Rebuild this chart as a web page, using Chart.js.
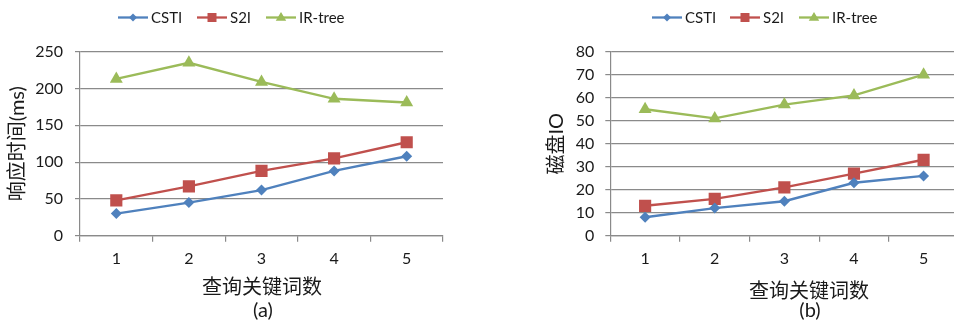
<!DOCTYPE html>
<html>
<head>
<meta charset="utf-8">
<script src="https://cdn.jsdelivr.net/npm/chart.js@4.4.1/dist/chart.umd.min.js"></script>
<style>
  html, body { margin: 0; padding: 0; background: #fff; width: 954px; height: 323px; overflow: hidden; }
  .panel { position: absolute; top: 0; }
  #panelA { left: 0; width: 477px; height: 323px; }
  #panelB { left: 477px; width: 490px; height: 323px; }
</style>
</head>
<body>
<div class="panel" id="panelA"><canvas id="chartA" width="477" height="323"></canvas></div>
<div class="panel" id="panelB"><canvas id="chartB" width="490" height="323"></canvas></div>
<script>
// Number of query keywords
const categories = ['1', '2', '3', '4', '5'];
const seriesNames = ['CSTI', 'S2I', 'IR-tree'];

// (a) response time in ms
const cstiTime = [30, 45, 62, 88, 108];
const s2iTime = [48, 67, 88, 105, 127];
const irTreeTime = [213, 235, 209, 186, 181];
const timeTickMax = 250;
const timeTickStep = 50;

// (b) disk I/O count
const cstiIO = [8, 12, 15, 23, 26];
const s2iIO = [13, 16, 21, 27, 33];
const irTreeIO = [55, 51, 57, 61, 70];
const ioTickMax = 80;
const ioTickStep = 10;

const xTitle = '查询关键词数';
const yTitleTime = '响应时间(ms)';
const yTitleIO = '磁盘IO';

const COLORS = ['#4F81BD', '#C0504D', '#9BBB59'];
const STYLES = ['rectRot', 'rect', 'triangle'];
const RADII = [5.5, 8.6, 7.5];
const FONT = "Lato, 'Noto Sans CJK SC', sans-serif";
const TEXT = '#1a1a1a';
const GRID = '#8a8a8a';

function makeDatasets(values) {
  return values.map((v, i) => ({
    label: seriesNames[i],
    data: v,
    borderColor: COLORS[i],
    backgroundColor: COLORS[i],
    borderWidth: 2.4,
    pointStyle: STYLES[i],
    pointRadius: RADII[i],
    pointHoverRadius: RADII[i],
    pointBorderWidth: 0,
    pointBackgroundColor: COLORS[i],
    tension: 0
  }));
}

// small legend marker shapes
function drawMarker(ctx, style, x, y, r) {
  ctx.beginPath();
  if (style === 'rectRot') {
    ctx.moveTo(x, y - r); ctx.lineTo(x + r, y); ctx.lineTo(x, y + r); ctx.lineTo(x - r, y);
  } else if (style === 'rect') {
    ctx.rect(x - r, y - r, 2 * r, 2 * r);
  } else {
    ctx.moveTo(x, y - r); ctx.lineTo(x + r * 0.95, y + r * 0.6); ctx.lineTo(x - r * 0.95, y + r * 0.6);
  }
  ctx.closePath();
  ctx.fill();
}

// legend row, x-axis caption and panel label
const captionPlugin = {
  id: 'captions',
  afterDraw(chart, args, opts) {
    const ctx = chart.ctx;
    ctx.save();
    const legendSizes = [4, 4.5, 5.5];
    chart.data.datasets.forEach((ds, i) => {
      const x0 = opts.legendX[i];
      const y = opts.legendY;
      ctx.strokeStyle = ds.borderColor;
      ctx.lineWidth = 2.3;
      ctx.beginPath();
      ctx.moveTo(x0, y);
      ctx.lineTo(x0 + 30, y);
      ctx.stroke();
      ctx.fillStyle = ds.borderColor;
      drawMarker(ctx, STYLES[i], x0 + 15, y, legendSizes[i]);
      ctx.fillStyle = TEXT;
      ctx.font = '15px ' + FONT;
      ctx.textAlign = 'left';
      ctx.textBaseline = 'middle';
      ctx.fillText(ds.label, x0 + 33, y + 1);
    });
    ctx.fillStyle = TEXT;
    ctx.textAlign = 'center';
    ctx.textBaseline = 'middle';
    ctx.font = '20px ' + FONT;
    ctx.fillText(opts.title, opts.titleX, opts.titleY);
    ctx.font = '20px ' + FONT;
    ctx.fillText(opts.sub, opts.subX, opts.subY);
    ctx.restore();
  }
};

function makeChart(id, values, yMax, yStep, yTitle, geom, caption) {
  return new Chart(document.getElementById(id), {
    type: 'line',
    data: { labels: categories, datasets: makeDatasets(values) },
    plugins: [captionPlugin],
    options: {
      responsive: false,
      animation: false,
      events: [],
      layout: { padding: { top: 51.7, left: geom.padLeft, right: geom.padRight, bottom: 0 } },
      plugins: {
        legend: { display: false },
        tooltip: { enabled: false },
        captions: caption
      },
      scales: {
        x: {
          offset: true,
          grid: { offset: true, drawOnChartArea: false, drawTicks: true, tickLength: 6, color: GRID, lineWidth: 1.2 },
          border: { display: true, color: GRID, width: 1.2 },
          ticks: { color: TEXT, font: { family: FONT, size: 16 }, padding: 8, maxRotation: 0 },
          afterFit(scale) { scale.height = 323 - 235.7; }
        },
        y: {
          min: 0,
          max: yMax,
          ticks: { stepSize: yStep, color: TEXT, font: { family: FONT, size: 16 }, padding: geom.tickPad },
          grid: { color: GRID, lineWidth: 1.2, drawTicks: true, tickLength: 5 },
          border: { display: true, color: GRID, width: 1.2 },
          title: { display: true, text: yTitle, color: TEXT, font: { family: FONT, size: 20 }, padding: 0 },
          afterFit(scale) { scale.width = geom.yWidth; }
        }
      }
    }
  });
}

makeChart('chartA', [cstiTime, s2iTime, irTreeTime], timeTickMax, timeTickStep, yTitleTime,
  { padLeft: 6, padRight: 34, yWidth: 74, tickPad: 12 },
  { legendX: [118, 197, 266], legendY: 17.5, title: xTitle, titleX: 262, titleY: 288, sub: '(a)', subX: 263, subY: 311 });

makeChart('chartB', [cstiIO, s2iIO, irTreeIO], ioTickMax, ioTickStep, yTitleIO,
  { padLeft: 68, padRight: 6.7, yWidth: 65.3, tickPad: 11 },
  { legendX: [175, 253, 322], legendY: 17.5, title: xTitle, titleX: 332, titleY: 292, sub: '(b)', subX: 333, subY: 311 });
</script>
</body>
</html>
